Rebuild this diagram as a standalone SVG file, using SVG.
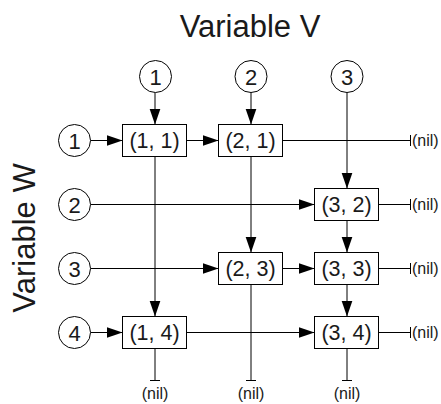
<svg xmlns="http://www.w3.org/2000/svg" width="441" height="404" viewBox="0 0 441 404">
<defs>
<marker id="ah" markerUnits="userSpaceOnUse" markerWidth="17" markerHeight="12" refX="16" refY="5.5" orient="auto">
<path d="M0,0 L16,5.5 L0,11 z" fill="#000"/>
</marker>
<style>
.c{fill:#fff;stroke:#000;stroke-width:1}
.b{fill:#fff;stroke:#000;stroke-width:1}
.t{font-family:"Liberation Sans",Arial,sans-serif;fill:#1a1a1a;text-anchor:middle}
.ct{font-size:22px}
.bt{font-size:21.5px}
.nt{font-size:16px}
.rn{text-anchor:start}
.ti{font-size:31px}
.l{stroke:#000;stroke-width:1;fill:none}
.a{stroke:#000;stroke-width:1;fill:none;marker-end:url(#ah)}
</style>
</defs>
<rect width="441" height="404" fill="#fff"/>
<text class="t ti" x="250" y="36.5">Variable V</text>
<text class="t ti" transform="translate(35,238) rotate(-90)">Variable W</text>
<g id="connectors">
<line class="a" x1="90.5" y1="140.5" x2="122.5" y2="140.5"/>
<line class="a" x1="186.5" y1="140.5" x2="218.5" y2="140.5"/>
<line class="l" x1="282.5" y1="140.5" x2="410" y2="140.5"/>
<line class="a" x1="90.5" y1="204.5" x2="314.5" y2="204.5"/>
<line class="l" x1="378.5" y1="204.5" x2="410" y2="204.5"/>
<line class="a" x1="90.5" y1="268.5" x2="218.5" y2="268.5"/>
<line class="a" x1="282.5" y1="268.5" x2="314.5" y2="268.5"/>
<line class="l" x1="378.5" y1="268.5" x2="410" y2="268.5"/>
<line class="a" x1="90.5" y1="332.5" x2="122.5" y2="332.5"/>
<line class="a" x1="186.5" y1="332.5" x2="314.5" y2="332.5"/>
<line class="l" x1="378.5" y1="332.5" x2="410" y2="332.5"/>
<line class="l" x1="410.5" y1="135" x2="410.5" y2="146"/>
<line class="l" x1="410.5" y1="199" x2="410.5" y2="210"/>
<line class="l" x1="410.5" y1="263" x2="410.5" y2="274"/>
<line class="l" x1="410.5" y1="327" x2="410.5" y2="338"/>
<line class="a" x1="155" y1="92.5" x2="155" y2="124.5"/>
<line class="a" x1="155" y1="156.5" x2="155" y2="316.5"/>
<line class="l" x1="155" y1="348.5" x2="155" y2="380"/>
<line class="a" x1="251" y1="92.5" x2="251" y2="124.5"/>
<line class="a" x1="251" y1="156.5" x2="251" y2="252.5"/>
<line class="l" x1="251" y1="284.5" x2="251" y2="380"/>
<line class="a" x1="347" y1="92.5" x2="347" y2="188.5"/>
<line class="a" x1="347" y1="220.5" x2="347" y2="252.5"/>
<line class="a" x1="347" y1="284.5" x2="347" y2="316.5"/>
<line class="l" x1="347" y1="348.5" x2="347" y2="380"/>
<line class="l" x1="150" y1="380.5" x2="160" y2="380.5"/>
<line class="l" x1="246" y1="380.5" x2="256" y2="380.5"/>
<line class="l" x1="342" y1="380.5" x2="352" y2="380.5"/>
</g>
<g id="nils">
<text class="t nt rn" x="412" y="146">(nil)</text>
<text class="t nt rn" x="412" y="210">(nil)</text>
<text class="t nt rn" x="412" y="274">(nil)</text>
<text class="t nt rn" x="412" y="338">(nil)</text>
<text class="t nt" x="155" y="399">(nil)</text>
<text class="t nt" x="251" y="399">(nil)</text>
<text class="t nt" x="347" y="399">(nil)</text>
</g>
<g id="v1"><circle class="c" cx="155.5" cy="76.5" r="16"/><text class="t ct" x="155.5" y="84.5">1</text></g>
<g id="v2"><circle class="c" cx="251" cy="76.5" r="16"/><text class="t ct" x="251" y="84.5">2</text></g>
<g id="v3"><circle class="c" cx="347" cy="76.5" r="16"/><text class="t ct" x="347" y="84.5">3</text></g>
<g id="w1"><circle class="c" cx="74.5" cy="140.5" r="16"/><text class="t ct" x="74.5" y="148.5">1</text></g>
<g id="w2"><circle class="c" cx="74.5" cy="204.5" r="16"/><text class="t ct" x="74.5" y="212.5">2</text></g>
<g id="w3"><circle class="c" cx="74.5" cy="268.5" r="16"/><text class="t ct" x="74.5" y="276.5">3</text></g>
<g id="w4"><circle class="c" cx="74.5" cy="332.5" r="16"/><text class="t ct" x="74.5" y="340.5">4</text></g>
<g id="n11"><rect class="b" x="122.5" y="124.5" width="64" height="32"/><text class="t bt" x="154.5" y="148">(1, 1)</text></g>
<g id="n21"><rect class="b" x="218.5" y="124.5" width="64" height="32"/><text class="t bt" x="250.5" y="148">(2, 1)</text></g>
<g id="n32"><rect class="b" x="314.5" y="188.5" width="64" height="32"/><text class="t bt" x="346.5" y="212">(3, 2)</text></g>
<g id="n23"><rect class="b" x="218.5" y="252.5" width="64" height="32"/><text class="t bt" x="250.5" y="276">(2, 3)</text></g>
<g id="n33"><rect class="b" x="314.5" y="252.5" width="64" height="32"/><text class="t bt" x="346.5" y="276">(3, 3)</text></g>
<g id="n14"><rect class="b" x="122.5" y="316.5" width="64" height="32"/><text class="t bt" x="154.5" y="340">(1, 4)</text></g>
<g id="n34"><rect class="b" x="314.5" y="316.5" width="64" height="32"/><text class="t bt" x="346.5" y="340">(3, 4)</text></g>
</svg>
